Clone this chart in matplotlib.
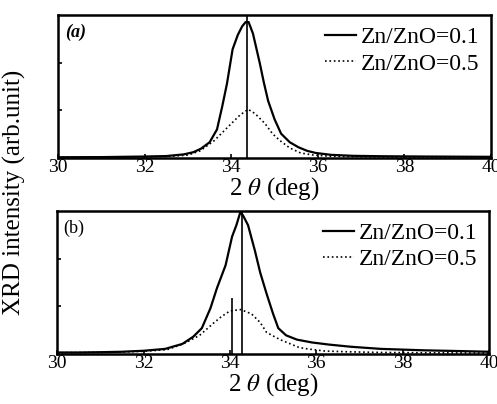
import matplotlib
matplotlib.use('Agg')
import matplotlib.pyplot as plt

plt.rcParams['font.family'] = ['Liberation Serif', 'DejaVu Serif']
plt.rcParams['mathtext.fontset'] = 'stix'

# (a) Zn/ZnO = 0.1
a1_x = [30.0, 31.0, 32.0, 32.5, 32.9, 33.12, 33.3, 33.5, 33.67, 33.79, 33.9, 34.03,
        34.15, 34.25, 34.33, 34.40, 34.5, 34.66, 34.75, 34.85, 35.0, 35.15, 35.35,
        35.55, 35.75, 35.95, 36.3, 36.8, 37.5, 38.5, 40.0]
a1_y = [15, 18, 30, 40, 75, 120, 195, 330, 600, 1080, 1560, 2280,
        2580, 2760, 2850, 2850, 2610, 1980, 1590, 1200, 810, 510, 330,
        225, 150, 105, 66, 45, 36, 30, 24]
# (a) Zn/ZnO = 0.5
a5_x = [30.0, 31.0, 32.0, 32.5, 33.0, 33.28, 33.6, 33.8, 34.0, 34.2, 34.39, 34.55,
        34.78, 34.95, 35.13, 35.35, 35.6, 35.9, 36.3, 37.0, 38.0, 40.0]
a5_y = [12, 15, 24, 30, 60, 150, 360, 540, 720, 900, 1020, 930,
        720, 510, 360, 210, 105, 60, 36, 24, 18, 15]

# (b) Zn/ZnO = 0.1
b1_x = [30.0, 30.5, 31.0, 31.5, 32.0, 32.5, 32.9, 33.15, 33.35, 33.55, 33.7, 33.9,
        34.05, 34.15, 34.24, 34.3, 34.42, 34.58, 34.7, 34.85, 35.0, 35.12, 35.3,
        35.55, 35.9, 36.3, 36.8, 37.5, 38.5, 39.3, 40.0]
b1_y = [30, 30, 36, 45, 66, 105, 210, 360, 540, 960, 1380, 1860,
        2460, 2700, 2970, 2910, 2700, 2160, 1710, 1260, 840, 540, 390,
        300, 240, 195, 150, 105, 75, 60, 45]
# (b) Zn/ZnO = 0.5
b5_x = [30.0, 31.0, 32.0, 32.55, 32.92, 33.3, 33.6, 33.8, 34.0, 34.25, 34.5, 34.7,
        34.85, 35.16, 35.4, 35.6, 35.8, 36.2, 36.7, 37.5, 38.5, 40.0]
b5_y = [24, 30, 54, 90, 210, 390, 630, 780, 900, 930, 840, 660,
        450, 300, 210, 135, 105, 60, 45, 30, 24, 18]

# vertical marker lines (position, height)
a_marks = [(34.36, 3000)]
b_marks = [(34.28, 3000), (34.05, 1170)]

panels = [
    ([0.117, 0.609, 0.871, 0.354], '(a)', 'bold', a1_x, a1_y, a5_x, a5_y, a_marks),
    ([0.115, 0.124, 0.869, 0.354], '(b)', 'normal', b1_x, b1_y, b5_x, b5_y, b_marks),
]

fig = plt.figure(figsize=(4.97, 4.04), dpi=100)

for rect, tag, weight, x1, y1, x5, y5, marks in panels:
    ax = fig.add_axes(rect)
    ax.plot(x1, y1, color='black', lw=1.6, label='Zn/ZnO=0.1')
    ax.plot(x5, y5, color='black', lw=1.2, ls=':', label='Zn/ZnO=0.5')
    for xm, hm in marks:
        ax.vlines(xm, 0, hm, color='black', lw=1.2)
    ax.set_xlim(30, 40)
    ax.set_ylim(0, 3000)
    ax.set_xticks([30, 32, 34, 36, 38, 40])
    ax.set_yticks([1000, 2000])
    ax.set_yticklabels([])
    ax.tick_params(direction='in', length=3, width=1.2, labelsize=14, pad=1)
    for s in ax.spines.values():
        s.set_linewidth(1.8)
    ax.set_xlabel(r'2 $\theta$ (deg)', fontsize=18, labelpad=-1)
    ax.text(0.015, 0.94, tag, transform=ax.transAxes, fontsize=13,
            fontweight=weight, style='italic' if weight == 'bold' else 'normal',
            va='top', ha='left')
    ax.legend(loc='upper right', frameon=False, fontsize=17, handlelength=1.3,
              handletextpad=0.2, borderaxespad=0.1, labelspacing=0.2)

fig.text(0.03, 0.525, 'XRD intensity (arb.unit)', rotation=90, fontsize=18,
         ha='center', va='center')

fig.savefig('out.png', dpi=100)
